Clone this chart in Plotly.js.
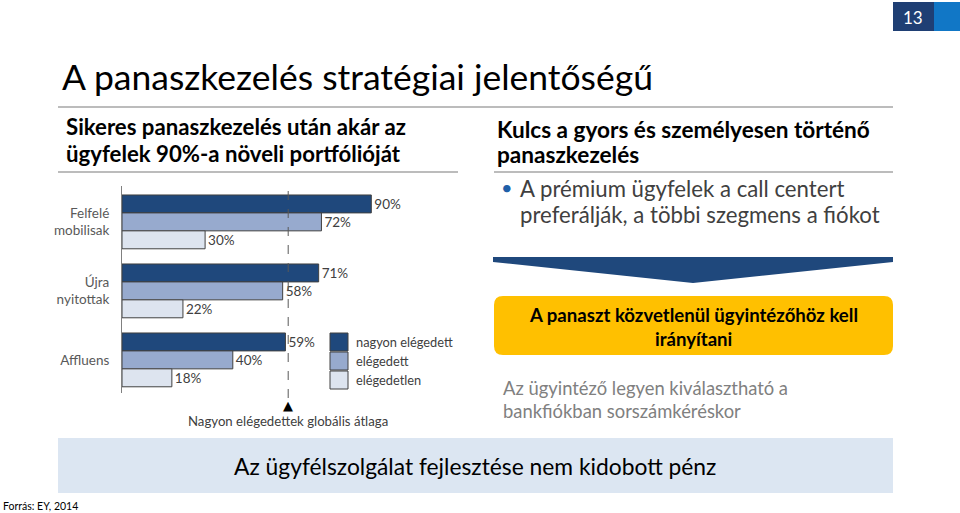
<!DOCTYPE html>
<html>
<head>
<meta charset="utf-8">
<script src="https://cdn.plot.ly/plotly-3.0.1.min.js"></script>
<style>
html,body{margin:0;padding:0;background:#fff;}
#chart{width:960px;height:513px;}
</style>
</head>
<body>
<div id="chart"></div>
<script>
// ---- data ----
const categories = ['Felfelé<br>mobilisak', 'Újra<br>nyitottak', 'Affluens'];
const seriesNames = ['nagyon elégedett', 'elégedett', 'elégedetlen'];
const veryHappy = [90, 71, 59];
const satisfied = [72, 58, 40];
const unsatisfied = [30, 22, 18];
const globalAvg = 60;
const globalAvgLabel = 'Nagyon elégedettek globális átlaga';

// ---- layout helpers ----
const W = 960, H = 513;
const px = x => x / W;
const py = y => 1 - y / H;
const FONT = 'Lato, "Open Sans", sans-serif';
const colors = ['#1F487C', '#97AACE', '#DDE4EF'];
const series = [veryHappy, satisfied, unsatisfied];

const traces = series.map((vals, i) => ({
  type: 'bar',
  orientation: 'h',
  name: seriesNames[i],
  y: categories,
  x: vals,
  text: vals.map(v => v + '%'),
  textposition: 'outside',
  cliponaxis: false,
  textfont: {family: FONT, size: 13.5, color: '#404040'},
  marker: {color: colors[i], line: {color: '#404040', width: 1}},
  hoverinfo: 'skip',
  showlegend: false
}));

const shapes = [];
const annotations = [];
function txt(x, y, text, size, color, anchor, extra) {
  annotations.push(Object.assign({xref: 'paper', yref: 'paper', x: px(x), y: py(y), text: text, showarrow: false,
    xanchor: anchor || 'left', yanchor: 'middle', font: {family: FONT, size: size, color: color}}, extra || {}));
}

// separator lines
shapes.push({type: 'line', xref: 'paper', yref: 'paper', x0: px(58), x1: px(893), y0: py(107), y1: py(107), line: {color: '#A6A6A6', width: 1.5}});
shapes.push({type: 'line', xref: 'paper', yref: 'paper', x0: px(58), x1: px(458), y0: py(172), y1: py(172), line: {color: '#A6A6A6', width: 1.5}});
shapes.push({type: 'line', xref: 'paper', yref: 'paper', x0: px(494), x1: px(893), y0: py(172), y1: py(172), line: {color: '#A6A6A6', width: 1.5}});

// page number box
shapes.push({type: 'rect', xref: 'paper', yref: 'paper', x0: px(893), x1: px(934), y0: py(2), y1: py(31), fillcolor: '#1F3F74', line: {width: 0}});
shapes.push({type: 'rect', xref: 'paper', yref: 'paper', x0: px(934), x1: px(960), y0: py(2), y1: py(31), fillcolor: '#1177C6', line: {width: 0}});
txt(913, 17, '13', 17, '#FFFFFF', 'center');

// global average dashed line
shapes.push({type: 'line', xref: 'x', yref: 'paper', x0: globalAvg, x1: globalAvg, y0: py(398), y1: py(186), line: {color: '#595959', width: 1, dash: 'dash'}});
annotations.push({xref: 'x', yref: 'paper', x: globalAvg, y: py(405), text: '▲', showarrow: false, xanchor: 'center', yanchor: 'middle', font: {family: 'DejaVu Sans', size: 13, color: '#000000'}});
annotations.push({xref: 'x', yref: 'paper', x: globalAvg, y: py(421), text: globalAvgLabel, showarrow: false, xanchor: 'center', yanchor: 'middle', font: {family: FONT, size: 13.2, color: '#404040'}});

// legend (custom squares)
const legY = [342, 361, 380];
seriesNames.forEach((n, i) => {
  shapes.push({type: 'rect', xref: 'paper', yref: 'paper', x0: px(330), x1: px(348), y0: py(legY[i] - 9), y1: py(legY[i] + 9), fillcolor: colors[i], line: {color: '#404040', width: 1}});
  txt(354, legY[i], n, 12.8, '#404040');
});

// chevron
const chev = `M${px(493)},${py(257)} L${px(893)},${py(257)} L${px(893)},${py(262)} L${px(693)},${py(283)} L${px(493)},${py(262)} Z`;
shapes.push({type: 'path', xref: 'paper', yref: 'paper', path: chev, fillcolor: '#1F487C', line: {width: 0}});

// yellow rounded box
const bx0 = 494, bx1 = 893, by0 = 296, by1 = 355, r = 9;
const yb = `M${px(bx0 + r)},${py(by0)} L${px(bx1 - r)},${py(by0)} Q${px(bx1)},${py(by0)} ${px(bx1)},${py(by0 + r)} L${px(bx1)},${py(by1 - r)} Q${px(bx1)},${py(by1)} ${px(bx1 - r)},${py(by1)} L${px(bx0 + r)},${py(by1)} Q${px(bx0)},${py(by1)} ${px(bx0)},${py(by1 - r)} L${px(bx0)},${py(by0 + r)} Q${px(bx0)},${py(by0)} ${px(bx0 + r)},${py(by0)} Z`;
shapes.push({type: 'path', xref: 'paper', yref: 'paper', path: yb, fillcolor: '#FFC000', line: {width: 0}});

// bottom banner
shapes.push({type: 'rect', xref: 'paper', yref: 'paper', x0: px(58), x1: px(893), y0: py(438), y1: py(493), fillcolor: '#DCE6F2', line: {width: 0}});

// texts
txt(60, 76, 'A panaszkezelés stratégiai jelentőségű', 35.5, '#000000');
txt(64, 127, '<b>Sikeres panaszkezelés után akár az</b>', 22.2, '#000000');
txt(64, 153, '<b>ügyfelek 90%-a növeli portfólióját</b>', 22.2, '#000000');
txt(495, 129, '<b>Kulcs a gyors és személyesen történő</b>', 22.6, '#000000');
txt(495, 155, '<b>panaszkezelés</b>', 22.6, '#000000');
txt(499, 187, '•', 20, '#1F5FA8');
txt(518, 188, 'A prémium ügyfelek a call centert', 22.2, '#404040');
txt(518, 214, 'preferálják, a többi szegmens a fiókot', 22.2, '#404040');
txt(693, 315, '<b>A panaszt közvetlenül ügyintézőhöz kell</b>', 18.6, '#000000', 'center');
txt(693, 339, '<b>irányítani</b>', 18.6, '#000000', 'center');
txt(501, 388, 'Az ügyintéző legyen kiválasztható a', 18.4, '#808080');
txt(501, 411, 'bankfiókban sorszámkéréskor', 18.4, '#808080');
txt(475, 466, 'Az ügyfélszolgálat fejlesztése nem kidobott pénz', 22.8, '#000000', 'center');
txt(1, 506, 'Forrás: EY, 2014', 10.5, '#000000');

const layout = {
  width: W, height: H,
  margin: {l: 0, r: 0, t: 0, b: 0},
  paper_bgcolor: '#FFFFFF', plot_bgcolor: 'rgba(0,0,0,0)',
  barmode: 'group', bargap: 0.22, bargroupgap: 0,
  showlegend: false,
  xaxis: {domain: [px(122), px(399)], range: [0, 100], showgrid: false, zeroline: false, showticklabels: false, showline: false, fixedrange: true},
  yaxis: {domain: [py(393), py(186)], range: [2.48, -0.52], type: 'category', categoryorder: 'array', categoryarray: categories,
          showgrid: false, zeroline: false, showline: true, linecolor: '#808080', linewidth: 1, ticks: '', ticklabelstandoff: 9,
          tickfont: {family: FONT, size: 13.5, color: '#595959'}, fixedrange: true},
  shapes: shapes,
  annotations: annotations,
  font: {family: FONT}
};

Plotly.newPlot('chart', traces, layout, {displayModeBar: false, staticPlot: true});
</script>
</body>
</html>
